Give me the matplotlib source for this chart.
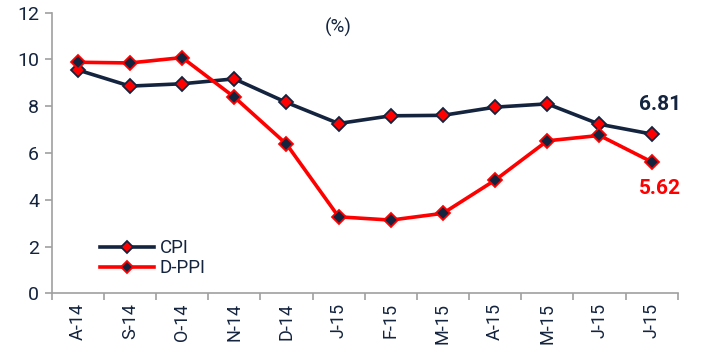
import matplotlib
matplotlib.use("Agg")
import matplotlib.pyplot as plt
from matplotlib.ticker import FixedLocator, NullFormatter

plt.rcParams['font.family'] = ['Roboto', 'DejaVu Sans']

categories = ["A-14", "S-14", "O-14", "N-14", "D-14", "J-15", "F-15", "M-15", "A-15", "M-15", "J-15", "J-15"]
cpi = [9.55, 8.86, 8.96, 9.17, 8.16, 7.26, 7.59, 7.61, 7.96, 8.10, 7.23, 6.81]
dppi = [9.88, 9.85, 10.08, 8.39, 6.38, 3.27, 3.13, 3.42, 4.84, 6.52, 6.75, 5.62]
yticks = [0, 2, 4, 6, 8, 10, 12]

NAVY = "#14243f"
RED = "#ff0000"
GRAY = "#a0a0a0"

fig = plt.figure(figsize=(7.02, 3.52), dpi=100)
ax = fig.add_axes([0.0737, 0.1668, 0.8917, 0.7972])

x = list(range(len(categories)))
ax.plot(x, cpi, color=NAVY, lw=2.6, marker="D", ms=7.5, mfc=RED, mec=NAVY, mew=1.3, label="CPI", zorder=3)
ax.plot(x, dppi, color=RED, lw=2.6, marker="D", ms=7.5, mfc=NAVY, mec=RED, mew=1.3, label="D-PPI", zorder=4)

ax.set_xlim(-0.5, len(categories) - 0.5)
ax.set_ylim(0, 12)
ax.set_yticks(yticks)
ax.set_yticklabels([str(v) for v in yticks], fontsize=14, color=NAVY)
ax.set_xticks(x)
ax.set_xticklabels(categories, rotation=90, fontsize=13, color=NAVY)
ax.tick_params(axis="x", which="major", length=0, pad=7)
ax.xaxis.set_minor_locator(FixedLocator([i - 0.5 for i in range(len(categories) + 1)]))
ax.xaxis.set_minor_formatter(NullFormatter())
ax.tick_params(axis="x", which="minor", length=5, color=GRAY, width=1.2)
ax.tick_params(axis="y", length=5, color=GRAY, width=1.2, pad=4)

for s in ["top", "right"]:
    ax.spines[s].set_visible(False)
for s in ["left", "bottom"]:
    ax.spines[s].set_color(GRAY)
    ax.spines[s].set_linewidth(1.2)

ax.text(5.0, 11.35, "(%)", fontsize=13.5, color=NAVY, ha="center", va="center")
ax.annotate(f"{cpi[-1]:.2f}", (11, cpi[-1]), xytext=(6, 21), textcoords="offset points",
            ha="center", va="center", fontsize=15, fontweight="bold", color=NAVY)
ax.annotate(f"{dppi[-1]:.2f}", (11, dppi[-1]), xytext=(6, -19), textcoords="offset points",
            ha="center", va="center", fontsize=15, fontweight="bold", color=RED)

leg = ax.legend(loc="lower left", bbox_to_anchor=(0.065, 0.03), frameon=False, fontsize=13.5,
                handlelength=2.9, handletextpad=0.3, labelspacing=0.12, borderaxespad=0,
                markerscale=0.8)
for t in leg.get_texts():
    t.set_color(NAVY)

fig.savefig("out.png", dpi=100)
